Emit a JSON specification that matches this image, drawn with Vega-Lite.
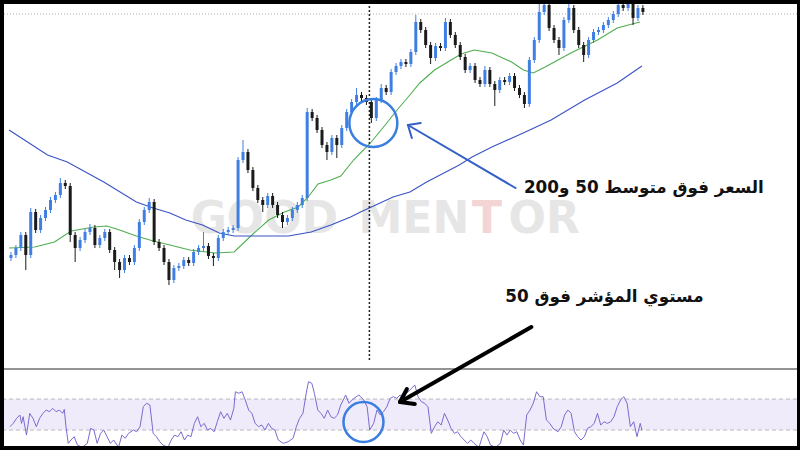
{
"$schema": "https://vega.github.io/schema/vega-lite/v6.json",
"width": 793, "height": 442,
"autosize": {"type": "none"},
"padding": {"left": 4, "top": 4, "right": 3, "bottom": 4},
"background": "#000000",
"config": {"view": {"stroke": null, "fill": "#ffffff"}},
"resolve": {"scale": {"y": "independent"}},
"datasets": {
"candles": [
{"i":0,"o":188,"h":194,"l":185,"c":191},{"i":1,"o":191,"h":201,"l":188,"c":198},{"i":2,"o":198,"h":214,"l":195,"c":211},{"i":3,"o":211,"h":214,"l":176,"c":191},{"i":4,"o":191,"h":238,"l":188,"c":234},
{"i":5,"o":234,"h":237,"l":213,"c":216},{"i":6,"o":216,"h":231,"l":213,"c":228},{"i":7,"o":228,"h":239,"l":225,"c":236},{"i":8,"o":236,"h":249,"l":233,"c":246},{"i":9,"o":246,"h":254,"l":243,"c":251},
{"i":10,"o":251,"h":268,"l":248,"c":263},{"i":11,"o":263,"h":266,"l":257,"c":260},{"i":12,"o":260,"h":263,"l":204,"c":211},{"i":13,"o":211,"h":214,"l":184,"c":198},{"i":14,"o":198,"h":209,"l":195,"c":206},
{"i":15,"o":206,"h":217,"l":203,"c":214},{"i":16,"o":214,"h":222,"l":211,"c":218},{"i":17,"o":218,"h":221,"l":198,"c":201},{"i":18,"o":201,"h":211,"l":198,"c":208},{"i":19,"o":208,"h":217,"l":205,"c":214},
{"i":20,"o":214,"h":217,"l":193,"c":196},{"i":21,"o":196,"h":199,"l":176,"c":184},{"i":22,"o":184,"h":187,"l":168,"c":176},{"i":23,"o":176,"h":191,"l":173,"c":188},{"i":24,"o":188,"h":191,"l":181,"c":184},
{"i":25,"o":184,"h":201,"l":181,"c":198},{"i":26,"o":198,"h":227,"l":195,"c":224},{"i":27,"o":224,"h":239,"l":221,"c":236},{"i":28,"o":236,"h":248,"l":233,"c":244},{"i":29,"o":244,"h":247,"l":201,"c":204},
{"i":30,"o":204,"h":207,"l":195,"c":198},{"i":31,"o":198,"h":201,"l":181,"c":184},{"i":32,"o":184,"h":187,"l":161,"c":166},{"i":33,"o":166,"h":181,"l":163,"c":178},{"i":34,"o":178,"h":183,"l":175,"c":180},
{"i":35,"o":180,"h":189,"l":177,"c":186},{"i":36,"o":186,"h":189,"l":180,"c":183},{"i":37,"o":183,"h":197,"l":180,"c":194},{"i":38,"o":194,"h":201,"l":191,"c":198},{"i":39,"o":198,"h":214,"l":195,"c":200},
{"i":40,"o":200,"h":203,"l":187,"c":190},{"i":41,"o":190,"h":193,"l":180,"c":188},{"i":42,"o":188,"h":211,"l":185,"c":208},{"i":43,"o":208,"h":217,"l":205,"c":214},{"i":44,"o":214,"h":219,"l":211,"c":216},
{"i":45,"o":216,"h":221,"l":213,"c":218},{"i":46,"o":218,"h":289,"l":215,"c":286},{"i":47,"o":286,"h":306,"l":283,"c":294},{"i":48,"o":294,"h":297,"l":273,"c":276},{"i":49,"o":276,"h":279,"l":255,"c":258},
{"i":50,"o":258,"h":261,"l":243,"c":246},{"i":51,"o":246,"h":249,"l":234,"c":241},{"i":52,"o":241,"h":253,"l":238,"c":250},{"i":53,"o":250,"h":253,"l":238,"c":241},{"i":54,"o":241,"h":244,"l":228,"c":231},
{"i":55,"o":231,"h":234,"l":218,"c":224},{"i":56,"o":224,"h":231,"l":221,"c":228},{"i":57,"o":228,"h":239,"l":225,"c":236},{"i":58,"o":236,"h":244,"l":233,"c":241},{"i":59,"o":241,"h":251,"l":238,"c":248},
{"i":60,"o":248,"h":338,"l":245,"c":334},{"i":61,"o":334,"h":337,"l":325,"c":328},{"i":62,"o":328,"h":331,"l":313,"c":316},{"i":63,"o":316,"h":319,"l":298,"c":301},{"i":64,"o":301,"h":304,"l":286,"c":294},
{"i":65,"o":294,"h":311,"l":291,"c":308},{"i":66,"o":308,"h":311,"l":288,"c":301},{"i":67,"o":301,"h":321,"l":298,"c":318},{"i":68,"o":318,"h":337,"l":315,"c":334},{"i":69,"o":334,"h":347,"l":331,"c":344},
{"i":70,"o":344,"h":358,"l":341,"c":351},{"i":71,"o":351,"h":354,"l":345,"c":348},{"i":72,"o":348,"h":351,"l":341,"c":344},{"i":73,"o":344,"h":347,"l":323,"c":328},{"i":74,"o":328,"h":349,"l":325,"c":346},
{"i":75,"o":346,"h":362,"l":343,"c":358},{"i":76,"o":358,"h":361,"l":351,"c":354},{"i":77,"o":354,"h":377,"l":351,"c":374},{"i":78,"o":374,"h":383,"l":371,"c":380},{"i":79,"o":380,"h":387,"l":377,"c":384},
{"i":80,"o":384,"h":387,"l":379,"c":382},{"i":81,"o":382,"h":397,"l":379,"c":394},{"i":82,"o":394,"h":431,"l":391,"c":424},{"i":83,"o":424,"h":427,"l":413,"c":416},{"i":84,"o":416,"h":419,"l":398,"c":401},
{"i":85,"o":401,"h":404,"l":382,"c":388},{"i":86,"o":388,"h":403,"l":385,"c":400},{"i":87,"o":400,"h":403,"l":395,"c":398},{"i":88,"o":398,"h":428,"l":395,"c":424},{"i":89,"o":424,"h":427,"l":408,"c":411},
{"i":90,"o":411,"h":414,"l":398,"c":401},{"i":91,"o":401,"h":404,"l":386,"c":389},{"i":92,"o":389,"h":392,"l":373,"c":376},{"i":93,"o":376,"h":383,"l":373,"c":380},{"i":94,"o":380,"h":383,"l":363,"c":366},
{"i":95,"o":366,"h":369,"l":359,"c":362},{"i":96,"o":362,"h":380,"l":359,"c":376},{"i":97,"o":376,"h":379,"l":359,"c":362},{"i":98,"o":362,"h":365,"l":340,"c":356},{"i":99,"o":356,"h":369,"l":353,"c":366},
{"i":100,"o":366,"h":369,"l":361,"c":364},{"i":101,"o":364,"h":373,"l":361,"c":370},{"i":102,"o":370,"h":373,"l":355,"c":358},{"i":103,"o":358,"h":361,"l":348,"c":351},{"i":104,"o":351,"h":354,"l":338,"c":342},
{"i":105,"o":342,"h":389,"l":339,"c":386},{"i":106,"o":386,"h":409,"l":383,"c":406},{"i":107,"o":406,"h":444,"l":403,"c":434},{"i":108,"o":434,"h":444,"l":431,"c":441},{"i":109,"o":441,"h":444,"l":415,"c":418},
{"i":110,"o":418,"h":421,"l":403,"c":406},{"i":111,"o":406,"h":409,"l":391,"c":398},{"i":112,"o":398,"h":429,"l":395,"c":426},{"i":113,"o":426,"h":444,"l":423,"c":438},{"i":114,"o":438,"h":441,"l":413,"c":416},
{"i":115,"o":416,"h":419,"l":398,"c":401},{"i":116,"o":401,"h":404,"l":384,"c":391},{"i":117,"o":391,"h":409,"l":388,"c":406},{"i":118,"o":406,"h":417,"l":403,"c":414},{"i":119,"o":414,"h":419,"l":411,"c":416},
{"i":120,"o":416,"h":424,"l":413,"c":421},{"i":121,"o":421,"h":429,"l":418,"c":426},{"i":122,"o":426,"h":435,"l":423,"c":432},{"i":123,"o":432,"h":444,"l":429,"c":441},{"i":124,"o":441,"h":444,"l":435,"c":438},
{"i":125,"o":438,"h":445,"l":435,"c":442},{"i":126,"o":442,"h":445,"l":421,"c":428},{"i":127,"o":428,"h":441,"l":425,"c":438},{"i":128,"o":438,"h":441,"l":431,"c":434}
],
"ma": [
{"i":-0.4,"ma":"MA50","v":198},{"i":4.8,"ma":"MA50","v":199},{"i":8.8,"ma":"MA50","v":204},{"i":12.2,"ma":"MA50","v":215},{"i":16.8,"ma":"MA50","v":219},{"i":19.4,"ma":"MA50","v":220},{"i":21.4,"ma":"MA50","v":217},{"i":25.4,"ma":"MA50","v":210},{"i":28.8,"ma":"MA50","v":205},{"i":32.2,"ma":"MA50","v":201},{"i":36.2,"ma":"MA50","v":196},{"i":41.4,"ma":"MA50","v":193},{"i":45.2,"ma":"MA50","v":194},{"i":48.8,"ma":"MA50","v":211},{"i":52.2,"ma":"MA50","v":226},{"i":55.4,"ma":"MA50","v":234},{"i":58.2,"ma":"MA50","v":239},{"i":60.2,"ma":"MA50","v":249},{"i":62.2,"ma":"MA50","v":262},{"i":64.8,"ma":"MA50","v":266},{"i":66.8,"ma":"MA50","v":270},{"i":69.4,"ma":"MA50","v":286},{"i":72.8,"ma":"MA50","v":303},{"i":75.8,"ma":"MA50","v":321},{"i":78.2,"ma":"MA50","v":336},{"i":80.8,"ma":"MA50","v":351},{"i":82.8,"ma":"MA50","v":363},{"i":85.8,"ma":"MA50","v":376},{"i":88.8,"ma":"MA50","v":385},{"i":91.2,"ma":"MA50","v":392},{"i":93.8,"ma":"MA50","v":396},{"i":97.4,"ma":"MA50","v":393},{"i":101.4,"ma":"MA50","v":384},{"i":103.8,"ma":"MA50","v":376},{"i":105.8,"ma":"MA50","v":373},{"i":108.2,"ma":"MA50","v":379},{"i":113.4,"ma":"MA50","v":393},{"i":118.8,"ma":"MA50","v":406},{"i":122.8,"ma":"MA50","v":418},{"i":127.4,"ma":"MA50","v":424},
{"i":-0.4,"ma":"MA200","v":316},{"i":7.4,"ma":"MA200","v":291},{"i":11.4,"ma":"MA200","v":284},{"i":18.8,"ma":"MA200","v":264},{"i":25.4,"ma":"MA200","v":244},{"i":28.8,"ma":"MA200","v":238},{"i":32.2,"ma":"MA200","v":233},{"i":35.4,"ma":"MA200","v":226},{"i":38.8,"ma":"MA200","v":221},{"i":42.2,"ma":"MA200","v":213},{"i":45.2,"ma":"MA200","v":210},{"i":56.2,"ma":"MA200","v":210},{"i":60.8,"ma":"MA200","v":214},{"i":64.8,"ma":"MA200","v":221},{"i":68.8,"ma":"MA200","v":229},{"i":70.8,"ma":"MA200","v":234},{"i":77.4,"ma":"MA200","v":249},{"i":80.8,"ma":"MA200","v":254},{"i":84.2,"ma":"MA200","v":264},{"i":90.8,"ma":"MA200","v":281},{"i":93.4,"ma":"MA200","v":289},{"i":97.4,"ma":"MA200","v":299},{"i":104.2,"ma":"MA200","v":314},{"i":109.4,"ma":"MA200","v":326},{"i":116.2,"ma":"MA200","v":346},{"i":122.8,"ma":"MA200","v":363},{"i":127.8,"ma":"MA200","v":380}
],
"rsi": [
{"i":-0.2,"r":34.3},{"i":0.46,"r":38.6},{"i":1.14,"r":45.1},{"i":1.8,"r":49.4},{"i":2.14,"r":38.6},{"i":2.46,"r":47.2},{"i":3.14,"r":23.5},{"i":3.8,"r":51.5},{"i":4.46,"r":45.1},{"i":5.14,"r":34.3},{"i":5.8,"r":45.1},{"i":6.46,"r":51.5},{"i":7.14,"r":55.8},{"i":7.8,"r":53.6},{"i":8.46,"r":58},{"i":9.14,"r":53.6},{"i":9.8,"r":55.8},{"i":10.46,"r":51.5},{"i":10.8,"r":56.7},{"i":11.14,"r":34.3},{"i":11.6,"r":12.8},{"i":12.14,"r":17.1},{"i":12.8,"r":21.4},{"i":13.46,"r":10.6},{"i":14.46,"r":7.7},{"i":15.46,"r":12.8},{"i":16.14,"r":32.2},{"i":16.8,"r":30},{"i":17.46,"r":12.8},{"i":18.14,"r":25.7},{"i":18.8,"r":30},{"i":19.46,"r":21.4},{"i":20.14,"r":12.8},{"i":20.8,"r":17.1},{"i":21.8,"r":7.7},{"i":22.46,"r":23.5},{"i":23.14,"r":19.3},{"i":23.8,"r":25.7},{"i":24.8,"r":30},{"i":25.46,"r":27.8},{"i":26.14,"r":34.3},{"i":26.8,"r":60.1},{"i":27.46,"r":64.5},{"i":28.14,"r":62.3},{"i":28.8,"r":25.7},{"i":29.46,"r":21.4},{"i":30.14,"r":14.9},{"i":30.8,"r":10.6},{"i":31.8,"r":7.7},{"i":32.46,"r":17.1},{"i":33.14,"r":23.5},{"i":33.8,"r":21.4},{"i":34.46,"r":27.8},{"i":35.14,"r":17.1},{"i":35.8,"r":23.5},{"i":36.46,"r":21.4},{"i":37.14,"r":38.6},{"i":37.8,"r":47.2},{"i":38.46,"r":34.3},{"i":39.14,"r":38.6},{"i":39.8,"r":30},{"i":40.46,"r":32.2},{"i":41.14,"r":27.8},{"i":41.8,"r":40.7},{"i":42.46,"r":53.6},{"i":43.14,"r":45.1},{"i":43.8,"r":51.5},{"i":44.46,"r":42.9},{"i":45.14,"r":58},{"i":45.46,"r":79.4},{"i":46.14,"r":77.4},{"i":46.8,"r":79.4},{"i":47.46,"r":68.7},{"i":48.14,"r":55.8},{"i":48.8,"r":51.5},{"i":49.46,"r":38.6},{"i":50.14,"r":34.3},{"i":50.8,"r":36.5},{"i":51.46,"r":30},{"i":52.14,"r":38.6},{"i":52.8,"r":32.2},{"i":53.46,"r":30},{"i":54.14,"r":17.1},{"i":55.14,"r":12.8},{"i":56.14,"r":14.9},{"i":57.14,"r":19.3},{"i":57.8,"r":34.3},{"i":58.46,"r":45.1},{"i":59.14,"r":51.5},{"i":59.8,"r":77.4},{"i":60.26,"r":92.3},{"i":60.94,"r":90.3},{"i":61.46,"r":77.4},{"i":62.14,"r":55.8},{"i":62.8,"r":51.5},{"i":63.46,"r":45.1},{"i":64.14,"r":55.8},{"i":64.8,"r":47.2},{"i":65.46,"r":45.1},{"i":66.14,"r":49.4},{"i":66.8,"r":62.3},{"i":67.8,"r":75.2},{"i":68.46,"r":64.5},{"i":69.46,"r":70.9},{"i":70.46,"r":75.2},{"i":71.46,"r":68.7},{"i":72.14,"r":60.1},{"i":72.66,"r":30},{"i":73.46,"r":38.6},{"i":74.14,"r":55.8},{"i":74.8,"r":49.4},{"i":75.46,"r":53.6},{"i":76.14,"r":60.1},{"i":76.8,"r":70.9},{"i":77.46,"r":73},{"i":78.14,"r":70.9},{"i":78.8,"r":75.2},{"i":79.46,"r":73},{"i":80.8,"r":81.6},{"i":81.8,"r":88.1},{"i":82.46,"r":73},{"i":83.14,"r":66.5},{"i":83.8,"r":64.5},{"i":84.46,"r":60.1},{"i":85.14,"r":25.7},{"i":85.8,"r":34.3},{"i":86.46,"r":40.7},{"i":87.14,"r":36.5},{"i":87.8,"r":51.5},{"i":88.46,"r":42.9},{"i":89.14,"r":32.2},{"i":89.8,"r":25.7},{"i":90.46,"r":27.8},{"i":91.14,"r":21.4},{"i":91.8,"r":17.1},{"i":92.46,"r":12.8},{"i":93.14,"r":17.1},{"i":93.8,"r":12.8},{"i":94.8,"r":7.7},{"i":95.8,"r":27.8},{"i":96.46,"r":21.4},{"i":97.14,"r":10.6},{"i":98.14,"r":7.7},{"i":99.14,"r":12.8},{"i":99.8,"r":30},{"i":100.46,"r":23.5},{"i":101.14,"r":30},{"i":101.8,"r":25.7},{"i":102.46,"r":27.8},{"i":103.14,"r":17.1},{"i":103.8,"r":10.6},{"i":104.46,"r":49.4},{"i":105.14,"r":55.8},{"i":105.8,"r":64.5},{"i":106.46,"r":79.4},{"i":107.14,"r":73},{"i":107.8,"r":73},{"i":108.46,"r":42.9},{"i":109.14,"r":38.6},{"i":109.8,"r":32.2},{"i":110.8,"r":27.8},{"i":111.46,"r":34.3},{"i":112.14,"r":49.4},{"i":112.8,"r":55.8},{"i":113.46,"r":51.5},{"i":114.14,"r":27.8},{"i":114.8,"r":21.4},{"i":115.46,"r":17.1},{"i":116.14,"r":21.4},{"i":116.8,"r":32.2},{"i":117.46,"r":34.3},{"i":118.14,"r":38.6},{"i":118.8,"r":51.5},{"i":119.46,"r":36.5},{"i":120.14,"r":40.7},{"i":120.8,"r":38.6},{"i":121.46,"r":40.7},{"i":122.14,"r":47.2},{"i":122.8,"r":60.1},{"i":123.46,"r":68.7},{"i":124.14,"r":73},{"i":124.8,"r":64.5},{"i":125.46,"r":34.3},{"i":126.14,"r":40.7},{"i":126.8,"r":21.4},{"i":127.46,"r":38.6},{"i":127.8,"r":30}
],
"arrows": [
{"k":"blue","i":102.2,"p":258,"i2":80.4,"p2":321},{"k":"blue","i":80.4,"p":321,"i2":83,"p2":323},{"k":"blue","i":80.4,"p":321,"i2":81.2,"p2":308},
{"k":"black","i":105.4,"p":119,"i2":78.8,"p2":44},{"k":"black","i":78.8,"p":44,"i2":81.8,"p2":42},{"k":"black","i":78.8,"p":44,"i2":80.2,"p2":57}
]
},
"layer": [
{"data": {"values": [{"hi": 70, "lo": 30}]}, "mark": {"type": "rect", "color": "#efebfa"},
 "encoding": {"x": {"value": 0}, "x2": {"value": "width"},
  "y": {"field": "hi", "type": "quantitative", "scale": {"domain": [9.4, 579.7], "nice": false, "zero": false}, "axis": null},
  "y2": {"field": "lo"}}},
{"data": {"values": [{"lvl": 70}, {"lvl": 30}]}, "mark": {"type": "rule", "color": "#b9b9b9", "strokeDash": [4, 3], "strokeWidth": 1},
 "encoding": {"y": {"field": "lvl", "type": "quantitative", "scale": {"domain": [9.4, 579.7], "nice": false, "zero": false}, "axis": null}}},
{"data": {"values": [{"lvl": 432}]}, "mark": {"type": "rule", "color": "#b0b0b0", "strokeDash": [1, 2], "strokeWidth": 1},
 "encoding": {"y": {"field": "lvl", "type": "quantitative", "scale": {"domain": [0, 442], "nice": false, "zero": false}, "axis": null}}},
{"data": {"values": [{"lvl": 77}]}, "mark": {"type": "rule", "color": "#707070", "strokeWidth": 1.5},
 "encoding": {"y": {"field": "lvl", "type": "quantitative", "scale": {"domain": [0, 442], "nice": false, "zero": false}, "axis": null}}},
{"data": {"values": [{"i": 36.4, "p": 226, "label": "GOOD"}, {"i": 70.4, "p": 226, "label": "MEN"}, {"i": 100.8, "p": 226, "label": "OR"}]},
 "mark": {"type": "text", "font": "DejaVu Sans", "fontSize": 44, "fontWeight": "bold", "color": "#e6e6e6", "baseline": "middle", "align": "left"},
 "encoding": {"x": {"field": "i", "type": "quantitative", "scale": {"domain": [-0.4, 158.2], "nice": false, "zero": false}, "axis": null},
  "y": {"field": "p", "type": "quantitative", "scale": {"domain": [0, 442], "nice": false, "zero": false}, "axis": null},
  "text": {"field": "label"}}},
{"data": {"values": [{"i": 93.4, "p": 226, "label": "T"}]},
 "mark": {"type": "text", "font": "DejaVu Sans", "fontSize": 44, "fontWeight": "bold", "color": "#f3d5d5", "baseline": "middle", "align": "left"},
 "encoding": {"x": {"field": "i", "type": "quantitative", "scale": {"domain": [-0.4, 158.2], "nice": false, "zero": false}, "axis": null},
  "y": {"field": "p", "type": "quantitative", "scale": {"domain": [0, 442], "nice": false, "zero": false}, "axis": null},
  "text": {"field": "label"}}},
{"data": {"name": "ma"}, "mark": {"type": "line", "strokeWidth": 1.1, "clip": true},
 "encoding": {"x": {"field": "i", "type": "quantitative", "scale": {"domain": [-0.4, 158.2], "nice": false, "zero": false}, "axis": null},
  "y": {"field": "v", "type": "quantitative", "scale": {"domain": [0, 442], "nice": false, "zero": false}, "axis": null},
  "color": {"field": "ma", "type": "nominal", "scale": {"domain": ["MA50", "MA200"], "range": ["#4fae4f", "#3a52c6"]}, "legend": null}}},
{"data": {"name": "candles"}, "mark": {"type": "rule", "strokeWidth": 1, "clip": true},
 "encoding": {"x": {"field": "i", "type": "quantitative", "scale": {"domain": [-0.4, 158.2], "nice": false, "zero": false}, "axis": null},
  "y": {"field": "l", "type": "quantitative", "scale": {"domain": [0, 442], "nice": false, "zero": false}, "axis": null},
  "y2": {"field": "h"},
  "color": {"condition": {"test": "datum.c >= datum.o", "value": "#3f7fe2"}, "value": "#1b1b1b"}}},
{"data": {"name": "candles"}, "mark": {"type": "bar", "width": 3, "clip": true},
 "encoding": {"x": {"field": "i", "type": "quantitative", "scale": {"domain": [-0.4, 158.2], "nice": false, "zero": false}, "axis": null},
  "y": {"field": "o", "type": "quantitative", "scale": {"domain": [0, 442], "nice": false, "zero": false}, "axis": null},
  "y2": {"field": "c"},
  "color": {"condition": {"test": "datum.c >= datum.o", "value": "#3f7fe2"}, "value": "#1b1b1b"}}},
{"data": {"name": "rsi"}, "mark": {"type": "line", "color": "#7b6bd0", "strokeWidth": 1, "clip": true},
 "encoding": {"x": {"field": "i", "type": "quantitative", "scale": {"domain": [-0.4, 158.2], "nice": false, "zero": false}, "axis": null},
  "y": {"field": "r", "type": "quantitative", "scale": {"domain": [9.4, 579.7], "nice": false, "zero": false}, "axis": null}}},
{"data": {"values": [{"i": 72.6, "p": 86, "p2": 442}]}, "mark": {"type": "rule", "color": "#222222", "strokeWidth": 1.5, "strokeDash": [2, 2]},
 "encoding": {"x": {"field": "i", "type": "quantitative", "scale": {"domain": [-0.4, 158.2], "nice": false, "zero": false}, "axis": null},
  "y": {"field": "p", "type": "quantitative", "scale": {"domain": [0, 442], "nice": false, "zero": false}, "axis": null},
  "y2": {"field": "p2"}}},
{"data": {"values": [{"i": 73.4, "p": 323}]}, "mark": {"type": "point", "shape": "circle", "filled": false, "size": 2304, "stroke": "#3a7fe0", "strokeWidth": 2.5, "opacity": 1},
 "encoding": {"x": {"field": "i", "type": "quantitative", "scale": {"domain": [-0.4, 158.2], "nice": false, "zero": false}, "axis": null},
  "y": {"field": "p", "type": "quantitative", "scale": {"domain": [0, 442], "nice": false, "zero": false}, "axis": null}}},
{"data": {"values": [{"i": 71.4, "r": 40.3}]}, "mark": {"type": "point", "shape": "circle", "filled": false, "size": 1600, "stroke": "#3a7fe0", "strokeWidth": 2.5, "opacity": 1},
 "encoding": {"x": {"field": "i", "type": "quantitative", "scale": {"domain": [-0.4, 158.2], "nice": false, "zero": false}, "axis": null},
  "y": {"field": "r", "type": "quantitative", "scale": {"domain": [9.4, 579.7], "nice": false, "zero": false}, "axis": null}}},
{"data": {"name": "arrows"}, "transform": [{"filter": "datum.k == 'blue'"}], "mark": {"type": "rule", "color": "#3560c8", "strokeWidth": 2, "strokeCap": "round"},
 "encoding": {"x": {"field": "i", "type": "quantitative", "scale": {"domain": [-0.4, 158.2], "nice": false, "zero": false}, "axis": null},
  "x2": {"field": "i2"},
  "y": {"field": "p", "type": "quantitative", "scale": {"domain": [0, 442], "nice": false, "zero": false}, "axis": null},
  "y2": {"field": "p2"}}},
{"data": {"name": "arrows"}, "transform": [{"filter": "datum.k == 'black'"}], "mark": {"type": "rule", "color": "#000000", "strokeWidth": 4, "strokeCap": "round"},
 "encoding": {"x": {"field": "i", "type": "quantitative", "scale": {"domain": [-0.4, 158.2], "nice": false, "zero": false}, "axis": null},
  "x2": {"field": "i2"},
  "y": {"field": "p", "type": "quantitative", "scale": {"domain": [0, 442], "nice": false, "zero": false}, "axis": null},
  "y2": {"field": "p2"}}},
{"data": {"values": [{"i": 128.2, "p": 258, "label": "السعر فوق متوسط 50 و200"}, {"i": 120.2, "p": 149, "label": "مستوي المؤشر فوق 50"}]},
 "mark": {"type": "text", "font": "DejaVu Sans", "fontSize": 16.8, "fontWeight": "bold", "color": "#111111", "align": "center", "baseline": "middle"},
 "encoding": {"x": {"field": "i", "type": "quantitative", "scale": {"domain": [-0.4, 158.2], "nice": false, "zero": false}, "axis": null},
  "y": {"field": "p", "type": "quantitative", "scale": {"domain": [0, 442], "nice": false, "zero": false}, "axis": null},
  "text": {"field": "label"}}}
]
}
